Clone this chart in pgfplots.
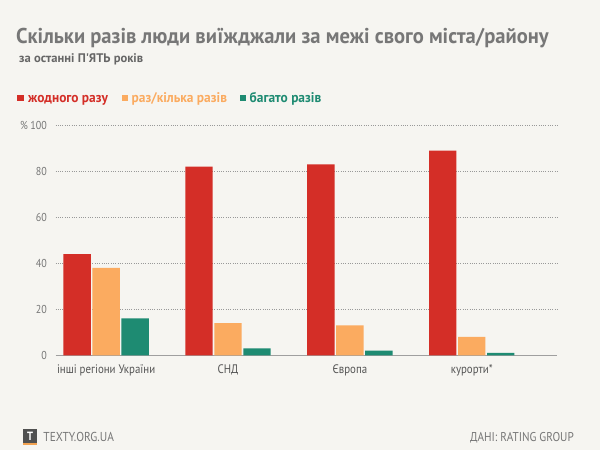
\documentclass[border=0pt]{standalone}
\usepackage{pgfplots}
\pgfplotsset{compat=1.18}
\usepackage{fontspec}
\setmainfont{PT Sans}[FakeStretch=0.88]
\newfontfamily\titlefont{PT Sans}[FakeStretch=0.96]
\newfontfamily\subfont{PT Sans}[FakeStretch=1.01]
\newfontfamily\legfont{PT Sans}[FakeStretch=0.96]
\definecolor{bg}{HTML}{F6F5F1}
\definecolor{cred}{HTML}{D42E27}
\definecolor{corange}{HTML}{FBAB60}
\definecolor{cgreen}{HTML}{1E8B72}
\definecolor{titlegray}{HTML}{777777}
\definecolor{subgray}{HTML}{666666}
\definecolor{tickgray}{HTML}{777777}
\definecolor{labgray}{HTML}{555555}
\definecolor{logogray}{HTML}{505050}
\definecolor{logoorange}{HTML}{F2A250}
\begin{document}
\begin{tikzpicture}[x=1bp,y=1bp]
\fill[bg] (0,0) rectangle (600,450);
% title
\node[anchor=base west, inner sep=0, text=titlegray, font=\titlefont\fontsize{21.5}{25}\selectfont\bfseries] at (16,406.7) {Скільки разів люди виїжджали за межі свого міста/району};
\node[anchor=base west, inner sep=0, text=subgray, font=\subfont\fontsize{12.5}{14}\selectfont\bfseries] at (19,387.7) {за останні П'ЯТЬ років};
% legend
\fill[cred] (17.3,348.5) rectangle (24,355);
\node[anchor=base west, inner sep=0, text=cred, font=\legfont\fontsize{14}{16}\selectfont\bfseries] at (28,347.5) {жодного разу};
\fill[corange] (121.5,348.5) rectangle (128,355);
\node[anchor=base west, inner sep=0, text=corange, font=\legfont\fontsize{14}{16}\selectfont\bfseries] at (131.5,347.5) {раз/кілька разів};
\fill[cgreen] (239.5,348.5) rectangle (246,355);
\node[anchor=base west, inner sep=0, text=cgreen, font=\legfont\fontsize{14}{16}\selectfont\bfseries] at (249.5,347.5) {багато разів};
\begin{axis}[
  at={(55.5bp,94.7bp)}, anchor=south west,
  scale only axis, width=501.5bp, height=230bp,
  xmin=-0.416, xmax=3.70, ymin=0, ymax=100,
  ybar=1.6bp, bar width=27.4bp,
  axis line style={draw=none},
  tick style={draw=none},
  xtick={0,1,2,3},
  xticklabels={інші регіони України, СНД, Європа, курорти*},
  xticklabel style={text=labgray, font=\fontsize{12.4}{15}\selectfont, yshift=-2bp},
  ytick={20,40,60,80,100},
  yticklabels={20,40,60,80,{\% 100}},
  extra y ticks={0},
  extra y tick style={ymajorgrids=true, major grid style={draw=gray!75, solid, line width=0.8bp}},
  yticklabel style={text=tickgray, font=\fontsize{11.5}{13}\selectfont, xshift=-5bp},
  ymajorgrids,
  major grid style={draw=gray!80, line width=0.6bp, dash pattern=on 0.7bp off 1.6bp},
  /pgf/number format/assume math mode=true,
  clip=false,
]
\addplot[fill=cred, draw=none] coordinates {(0,44) (1,82) (2,83) (3,89)};
\addplot[fill=corange, draw=none] coordinates {(0,38) (1,14) (2,13) (3,8)};
\addplot[fill=cgreen, draw=none] coordinates {(0,16) (1,3) (2,2) (3,1)};
\end{axis}
% footer
\fill[logogray] (22.7,7) rectangle (37.3,21);
\fill[logoorange] (22.7,4.5) rectangle (37.3,7);
\node[inner sep=0, text=white, font=\fontsize{12}{14}\selectfont\bfseries] at (30,14) {T};
\node[anchor=base west, inner sep=0, text=titlegray, font=\fontsize{13}{15}\selectfont] at (43.3,8) {TEXTY.ORG.UA};
\node[anchor=base east, inner sep=0, text=titlegray, font=\fontsize{12.8}{15}\selectfont] at (574,8) {ДАНІ: RATING GROUP};
\end{tikzpicture}
\end{document}
